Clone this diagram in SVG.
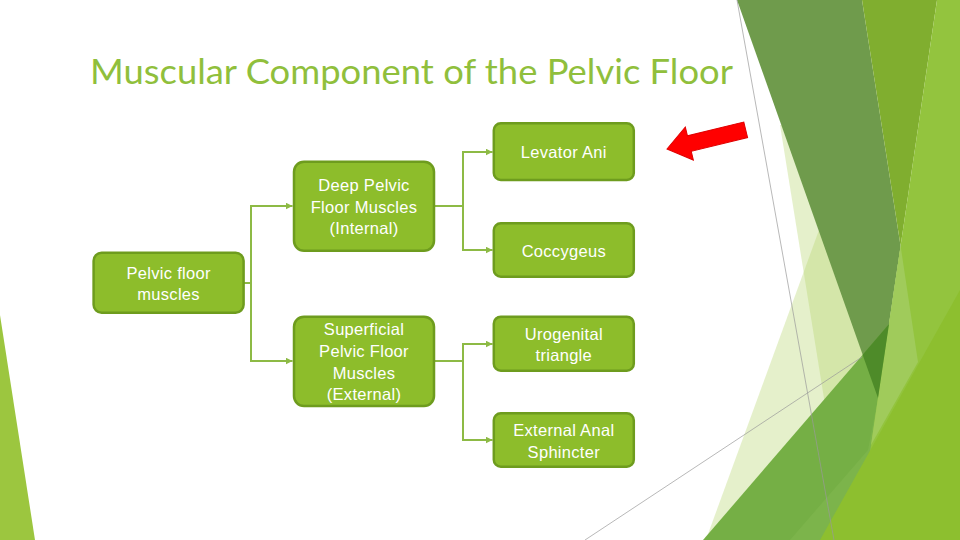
<svg xmlns="http://www.w3.org/2000/svg" width="960" height="540" viewBox="0 0 960 540">
  <defs>
    <style>
      .box { fill: #8DBD2B; stroke: #6E9C1E; stroke-width: 2.5; }
      .lbl { font-family: "Liberation Sans", Arial, sans-serif; font-size: 16.5px; fill: #FFFFFF; text-anchor: middle; letter-spacing: 0.3px; }
      .con { fill: none; stroke: #8DBA45; stroke-width: 2; }
      .thin { fill: none; stroke: #9A9A9A; stroke-width: 0.7; }
      .pale { fill: #B5D56A; fill-opacity: 0.35; }
    </style>
    <marker id="ah" markerUnits="userSpaceOnUse" markerWidth="7" markerHeight="7" refX="7" refY="3.5" orient="auto">
      <path d="M0,0 L7,3.5 L0,7 z" fill="#8DBA45"/>
    </marker>
  </defs>
  <rect x="0" y="0" width="960" height="540" fill="#FFFFFF"/>

  <!-- background facets -->
  <g id="background">
    <polygon points="0,315 35,540 0,540" fill="#9CC63F"/>
    <polygon class="pale" points="780,125 850,560 890,300 860,120"/>
    <polygon class="pale" points="704,545 830,200 880,320 820,545"/>
    <polygon points="737,0 862,0 900.6,246 878,398" fill="#6F9B4C"/>
    <polygon points="862,0 937,0 900.6,246" fill="#80AE2F"/>
    <polygon points="703,540 960,242 960,540" fill="#75AF45"/>
    <polygon points="790,540 868,450 878,398 880,540" fill="#7CB44B"/>
    <polygon points="937,0 960,0 960,540 857,540" fill="#93C43E"/>
    <polygon points="900.6,246 918,362 871,445" fill="#A0CB5B"/>
    <polygon points="820,540 960,290 960,540" fill="#8DBF2F"/>
    <polygon points="862.6,354.8 889,324 878,398" fill="#4E8B29"/>
    <line class="thin" x1="737" y1="0" x2="834" y2="540"/>
    <line class="thin" x1="585" y1="540" x2="862" y2="357"/>
  </g>

  <!-- title -->
  <text x="90" y="84" font-family="Lato, 'Liberation Sans', sans-serif" font-size="34" fill="#90BF3C" textLength="643" lengthAdjust="spacingAndGlyphs">Muscular Component of the Pelvic Floor</text>

  <!-- red arrow -->
  <g id="red-arrow" transform="translate(667,149) rotate(-13.7)">
    <polygon points="0,0 23,-17 23,-8 81,-8 81,8 23,8 23,17" fill="#FF0000" stroke="#E00000" stroke-width="1"/>
  </g>

  <!-- connectors -->
  <g id="connectors">
    <path class="con" d="M243.6,283 H251 V206 H292.5" marker-end="url(#ah)"/>
    <path class="con" d="M251,283 V361 H292.5" marker-end="url(#ah)"/>
    <path class="con" d="M434,206 H463 V152 H492.5" marker-end="url(#ah)"/>
    <path class="con" d="M463,206 V250 H492.5" marker-end="url(#ah)"/>
    <path class="con" d="M434,361 H463 V344 H492.5" marker-end="url(#ah)"/>
    <path class="con" d="M463,361 V440 H492.5" marker-end="url(#ah)"/>
  </g>

  <!-- nodes -->
  <g id="node-pelvic-floor">
    <rect class="box" x="93.6" y="252.7" width="150" height="60" rx="8"/>
    <text class="lbl" x="168.6" y="279">Pelvic floor</text>
    <text class="lbl" x="168.6" y="300">muscles</text>
  </g>
  <g id="node-deep">
    <rect class="box" x="294" y="161.7" width="140" height="89" rx="10"/>
    <text class="lbl" x="364" y="191">Deep Pelvic</text>
    <text class="lbl" x="364" y="213">Floor Muscles</text>
    <text class="lbl" x="364" y="234">(Internal)</text>
  </g>
  <g id="node-superficial">
    <rect class="box" x="294" y="316.7" width="140" height="89.3" rx="10"/>
    <text class="lbl" x="364" y="335">Superficial</text>
    <text class="lbl" x="364" y="357">Pelvic Floor</text>
    <text class="lbl" x="364" y="379">Muscles</text>
    <text class="lbl" x="364" y="400">(External)</text>
  </g>
  <g id="node-levator-ani">
    <rect class="box" x="493.8" y="123.3" width="140" height="56.7" rx="7"/>
    <text class="lbl" x="563.8" y="158">Levator Ani</text>
  </g>
  <g id="node-coccygeus">
    <rect class="box" x="493.8" y="223.3" width="140" height="53.4" rx="7"/>
    <text class="lbl" x="563.8" y="257">Coccygeus</text>
  </g>
  <g id="node-urogenital">
    <rect class="box" x="493.8" y="316.7" width="140" height="54" rx="7"/>
    <text class="lbl" x="563.8" y="340">Urogenital</text>
    <text class="lbl" x="563.8" y="361">triangle</text>
  </g>
  <g id="node-external-anal">
    <rect class="box" x="493.8" y="413.3" width="140" height="53.4" rx="7"/>
    <text class="lbl" x="563.8" y="436">External Anal</text>
    <text class="lbl" x="563.8" y="458">Sphincter</text>
  </g>
</svg>
